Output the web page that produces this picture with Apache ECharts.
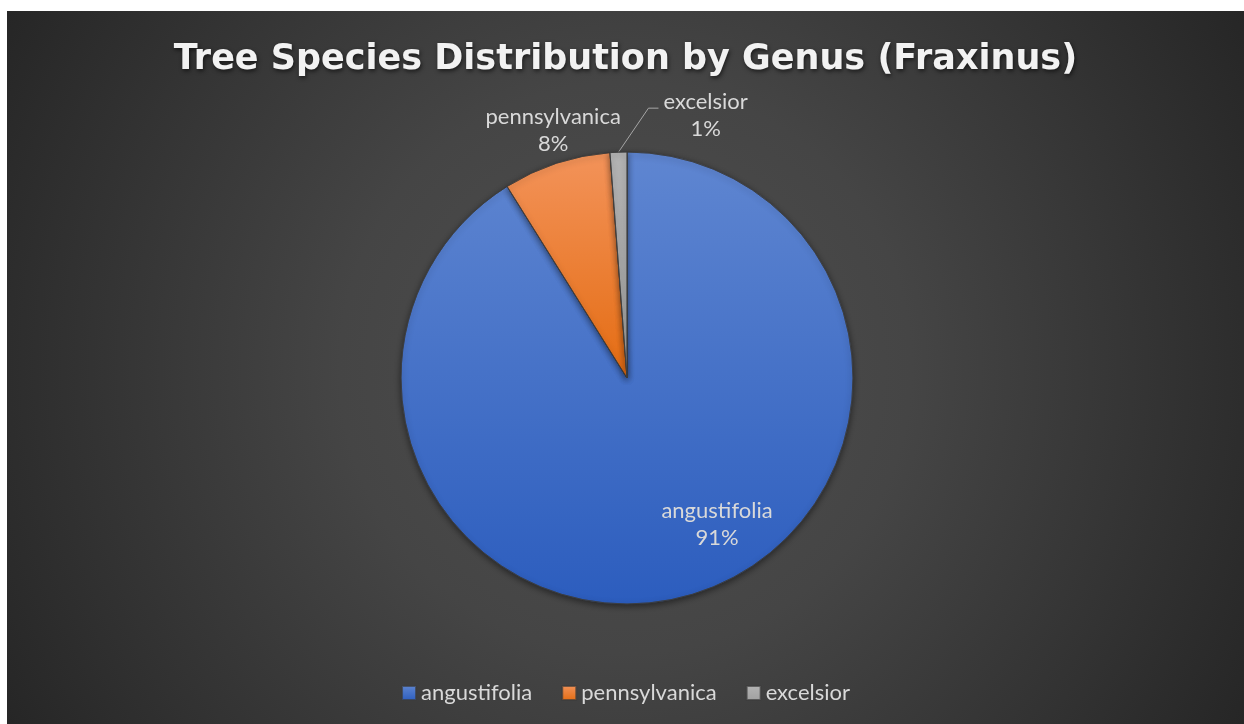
<!DOCTYPE html>
<html>
<head>
<meta charset="utf-8">
<title>Tree Species Distribution by Genus (Fraxinus)</title>
<script src="https://cdn.jsdelivr.net/npm/echarts@6/dist/echarts.min.js"></script>
<style>
  html, body { margin: 0; padding: 0; background: #ffffff; }
  #main {
    position: absolute; left: 7px; top: 11px; width: 1237px; height: 713px;
    background: radial-gradient(circle farthest-corner at 50% 50%, #4f4f4f 0%, #454545 40%, #262626 100%);
  }
</style>
</head>
<body>
<div id="main"></div>
<script>
// 数据：树种 / 占比（%）
var species = ['angustifolia', 'pennsylvanica', 'excelsior'];
var shares = [91.1, 7.7, 1.2];

// 每块扇区的上下渐变色
var topColors = ['#5f86d1', '#f3935a', '#b4b4b4'];
var bottomColors = ['#2c5dbe', '#e46c12', '#a0a0a0'];

var myChart = echarts.init(document.getElementById('main'));

var pieData = [];
for (var i = 0; i < species.length; i++) {
    pieData.push({
        name: species[i],
        value: shares[i],
        itemStyle: {
            color: new echarts.graphic.LinearGradient(0, 0, 0, 1, [
                { offset: 0, color: topColors[i] },
                { offset: 1, color: bottomColors[i] }
            ])
        }
    });
}
// 标签位置：angustifolia 在内部，其余在外部
pieData[0].label = { position: 'inside' };
pieData[1].labelLine = { show: false, length: 30, length2: 0 };
pieData[2].labelLine = { show: true, length: 20, length2: 10 };

var labelFont = 'Lato, "Open Sans", sans-serif';

myChart.setOption({
    title: {
        text: 'Tree Species Distribution by Genus (Fraxinus)',
        left: 'center',
        top: 31,
        padding: 0,
        textStyle: {
            color: '#f2f2f2',
            fontFamily: '"DejaVu Sans", sans-serif',
            fontWeight: 'bold',
            fontSize: 35,
            textShadowColor: 'rgba(0,0,0,0.6)',
            textShadowBlur: 4,
            textShadowOffsetX: 1,
            textShadowOffsetY: 2
        }
    },
    legend: {
        bottom: 20,
        left: 'center',
        padding: 0,
        icon: 'rect',
        itemWidth: 14,
        itemHeight: 14,
        itemGap: 29,
        textStyle: { color: '#d9d9d9', fontSize: 22, fontFamily: labelFont, padding: [0, 0, 0, 0] },
        data: species
    },
    series: [{
        name: 'Fraxinus',
        type: 'pie',
        center: [620, 367],
        radius: 226,
        startAngle: 90,
        clockwise: true,
        percentPrecision: 0,
        avoidLabelOverlap: false,
        itemStyle: {
            borderColor: 'rgba(60,60,60,0.7)',
            borderWidth: 1,
            shadowColor: 'rgba(0,0,0,0.45)',
            shadowBlur: 6,
            shadowOffsetY: 2
        },
        label: {
            show: true,
            position: 'outside',
            formatter: '{b}\n{d}%',
            color: '#d9d9d9',
            fontSize: 22,
            lineHeight: 27,
            fontFamily: labelFont
        },
        labelLine: {
            lineStyle: { color: '#a6a6a6', width: 1 }
        },
        labelLayout: function (params) {
            if (params.dataIndex === 0) {
                return { dx: 58, dy: 35 };
            }
            if (params.dataIndex === 1) {
                return { align: 'center', dx: 11, dy: -4 };
            }
            // excelsior：引线向右上
            var p = params.labelLinePoints;
            if (!p) return {};
            var p0 = p[0];
            var p1 = [p0[0] + 30, p0[1] - 44];
            var p2 = [p1[0] + 10, p1[1]];
            return {
                x: p2[0] + 5 + params.labelRect.width / 2,
                y: p1[1] + 7,
                align: 'center',
                verticalAlign: 'middle',
                labelLinePoints: [p0, p1, p2]
            };
        },
        data: pieData
    }]
});
</script>
</body>
</html>
